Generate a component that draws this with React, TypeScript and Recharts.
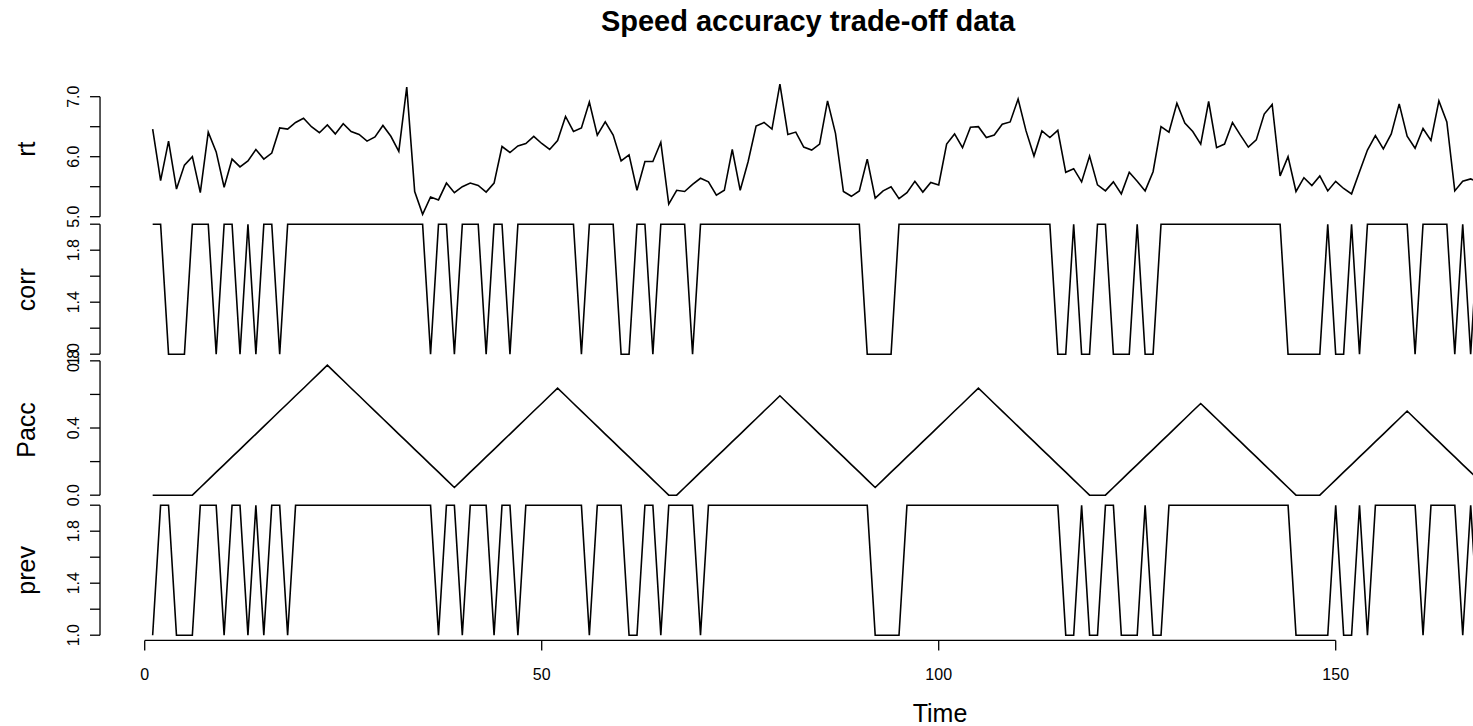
import React from "react";
import { LineChart, Line, XAxis, YAxis, ReferenceLine } from "recharts";

// time index of the series
const time = Array.from({ length: 168 }, (_, i) => i + 1);

const rt = [
  6.46, 5.6, 6.26, 5.46, 5.86, 6.0, 5.4, 6.41, 6.08, 5.49,
  5.96, 5.83, 5.93, 6.12, 5.96, 6.06, 6.48, 6.46, 6.57, 6.64,
  6.5, 6.4, 6.53, 6.38, 6.55, 6.42, 6.37, 6.26, 6.33, 6.52,
  6.34, 6.09, 7.16, 5.42, 5.04, 5.33, 5.28, 5.56, 5.4, 5.5,
  5.56, 5.52, 5.41, 5.56, 6.17, 6.07, 6.18, 6.22, 6.34, 6.22,
  6.12, 6.27, 6.67, 6.42, 6.48, 6.91, 6.36, 6.58, 6.36, 5.93,
  6.03, 5.44, 5.92, 5.92, 6.24, 5.21, 5.44, 5.42, 5.54, 5.64,
  5.58, 5.36, 5.44, 6.12, 5.44, 5.92, 6.51, 6.57, 6.46, 7.21,
  6.37, 6.41, 6.16, 6.11, 6.21, 6.93, 6.39, 5.42, 5.34, 5.43,
  5.96, 5.31, 5.43, 5.5, 5.3, 5.4, 5.59, 5.41, 5.57, 5.53,
  6.21, 6.38, 6.15, 6.49, 6.5, 6.32, 6.36, 6.54, 6.58, 6.96,
  6.43, 6.01, 6.43, 6.32, 6.44, 5.74, 5.8, 5.58, 6.01, 5.53,
  5.43, 5.58, 5.38, 5.74, 5.59, 5.43, 5.75, 6.5, 6.41, 6.89,
  6.56, 6.42, 6.21, 6.92, 6.15, 6.21, 6.57, 6.36, 6.16, 6.28,
  6.71, 6.87, 5.68, 6.0, 5.42, 5.65, 5.52, 5.68, 5.43, 5.59,
  5.47, 5.38, 5.75, 6.11, 6.35, 6.13, 6.38, 6.88, 6.34, 6.14,
  6.47, 6.27, 6.93, 6.58, 5.43, 5.59, 5.63, 5.58,
];

const corr = [
  2, 2, 1, 1, 1, 2, 2, 2, 1, 2,
  2, 1, 2, 1, 2, 2, 1, 2, 2, 2,
  2, 2, 2, 2, 2, 2, 2, 2, 2, 2,
  2, 2, 2, 2, 2, 1, 2, 2, 1, 2,
  2, 2, 1, 2, 2, 1, 2, 2, 2, 2,
  2, 2, 2, 2, 1, 2, 2, 2, 2, 1,
  1, 2, 2, 1, 2, 2, 2, 2, 1, 2,
  2, 2, 2, 2, 2, 2, 2, 2, 2, 2,
  2, 2, 2, 2, 2, 2, 2, 2, 2, 2,
  1, 1, 1, 1, 2, 2, 2, 2, 2, 2,
  2, 2, 2, 2, 2, 2, 2, 2, 2, 2,
  2, 2, 2, 2, 1, 1, 2, 1, 1, 2,
  2, 1, 1, 1, 2, 1, 1, 2, 2, 2,
  2, 2, 2, 2, 2, 2, 2, 2, 2, 2,
  2, 2, 2, 1, 1, 1, 1, 1, 2, 1,
  1, 2, 1, 2, 2, 2, 2, 2, 2, 1,
  2, 2, 2, 2, 1, 2, 1, 2,
];

const pacc = [
  0, 0, 0, 0, 0, 0, 0.046, 0.091, 0.137, 0.182,
  0.228, 0.273, 0.319, 0.364, 0.41, 0.455, 0.501, 0.546, 0.592, 0.637,
  0.683, 0.728, 0.774, 0.728, 0.683, 0.637, 0.592, 0.546, 0.501, 0.455,
  0.41, 0.364, 0.319, 0.273, 0.228, 0.182, 0.137, 0.091, 0.046, 0.091,
  0.137, 0.182, 0.228, 0.273, 0.319, 0.364, 0.41, 0.455, 0.501, 0.546,
  0.592, 0.637, 0.592, 0.546, 0.501, 0.455, 0.41, 0.364, 0.319, 0.273,
  0.228, 0.182, 0.137, 0.091, 0.046, 0, 0, 0.046, 0.091, 0.137,
  0.182, 0.228, 0.273, 0.319, 0.364, 0.41, 0.455, 0.501, 0.546, 0.592,
  0.546, 0.501, 0.455, 0.41, 0.364, 0.319, 0.273, 0.228, 0.182, 0.137,
  0.091, 0.046, 0.091, 0.137, 0.182, 0.228, 0.273, 0.319, 0.364, 0.41,
  0.455, 0.501, 0.546, 0.592, 0.637, 0.592, 0.546, 0.501, 0.455, 0.41,
  0.364, 0.319, 0.273, 0.228, 0.182, 0.137, 0.091, 0.046, 0, 0,
  0, 0.046, 0.091, 0.137, 0.182, 0.228, 0.273, 0.319, 0.364, 0.41,
  0.455, 0.501, 0.546, 0.501, 0.455, 0.41, 0.364, 0.319, 0.273, 0.228,
  0.182, 0.137, 0.091, 0.046, 0, 0, 0, 0, 0.046, 0.091,
  0.137, 0.182, 0.228, 0.273, 0.319, 0.364, 0.41, 0.455, 0.501, 0.455,
  0.41, 0.364, 0.319, 0.273, 0.228, 0.182, 0.137, 0.091,
];

const prev = [
  1, 2, 2, 1, 1, 1, 2, 2, 2, 1,
  2, 2, 1, 2, 1, 2, 2, 1, 2, 2,
  2, 2, 2, 2, 2, 2, 2, 2, 2, 2,
  2, 2, 2, 2, 2, 2, 1, 2, 2, 1,
  2, 2, 2, 1, 2, 2, 1, 2, 2, 2,
  2, 2, 2, 2, 2, 1, 2, 2, 2, 2,
  1, 1, 2, 2, 1, 2, 2, 2, 2, 1,
  2, 2, 2, 2, 2, 2, 2, 2, 2, 2,
  2, 2, 2, 2, 2, 2, 2, 2, 2, 2,
  2, 1, 1, 1, 1, 2, 2, 2, 2, 2,
  2, 2, 2, 2, 2, 2, 2, 2, 2, 2,
  2, 2, 2, 2, 2, 1, 1, 2, 1, 1,
  2, 2, 1, 1, 1, 2, 1, 1, 2, 2,
  2, 2, 2, 2, 2, 2, 2, 2, 2, 2,
  2, 2, 2, 2, 1, 1, 1, 1, 1, 2,
  1, 1, 2, 1, 2, 2, 2, 2, 2, 2,
  1, 2, 2, 2, 2, 1, 2, 1,
];

const xTicks = [0, 50, 100, 150];
const rtTicks = [5, 5.5, 6, 6.5, 7];
const rtLabels = [5, 6, 7];
const binTicks = [1, 1.2, 1.4, 1.6, 1.8, 2];
const binLabels = [1, 1.4, 1.8];
const paccTicks = [0, 0.2, 0.4, 0.6, 0.8];
const paccLabels = [0, 0.4, 0.8];

const rows = time.map((t, i) => ({ t, rt: rt[i], corr: corr[i], Pacc: pacc[i], prev: prev[i] }));

const W = 1473;
const LEFT = 100;
const PANEL_H = 140.4;
const XAXIS_H = 85.4;
const PAD = 20; // room above/below each panel so the tick labels are not cut
const X_DOMAIN: [number, number] = [-5.63, 167.29];
const FONT = '"Liberation Sans", Arial, Helvetica, sans-serif';

const panels = [
  { key: "rt", top: 79, domain: [4.955, 7.295], ticks: rtTicks, labels: rtLabels, axis: [5, 7] },
  { key: "corr", top: 219.4, domain: [0.96, 2.04], ticks: binTicks, labels: binLabels, axis: [1, 2] },
  { key: "Pacc", top: 359.8, domain: [-0.031, 0.805], ticks: paccTicks, labels: paccLabels, axis: [0, 0.8] },
  { key: "prev", top: 500.2, domain: [0.96, 2.04], ticks: binTicks, labels: binLabels, axis: [1, 2], showX: true },
];

// R only prints some of the tick labels, turned to read upwards
const makeTick = (labels: number[]) => (props: any) => {
  const { y, payload } = props;
  const v = payload.value;
  if (!labels.some((l) => Math.abs(l - v) < 1e-9)) return <g />;
  return (
    <text x={79} y={y} transform={`rotate(-90 79 ${y})`} textAnchor="middle" fontSize={16} fill="#000" fontFamily={FONT}>
      {v.toFixed(1)}
    </text>
  );
};

function Panel({ p }: { p: any }) {
  const h = p.showX ? PAD + PANEL_H + XAXIS_H : PAD + PANEL_H + PAD;
  return (
    <div style={{ position: "absolute", left: 0, top: p.top - PAD }}>
      <LineChart width={W} height={h} data={rows} margin={{ top: PAD, right: 0, bottom: p.showX ? 0 : PAD, left: 0 }}>
        <XAxis
          dataKey="t"
          type="number"
          domain={X_DOMAIN}
          allowDataOverflow
          hide={!p.showX}
          ticks={xTicks}
          interval={0}
          height={XAXIS_H}
          tickSize={10}
          tickMargin={18}
          axisLine={false}
          tickLine={{ stroke: "#000", strokeWidth: 1.3 }}
          tick={{ fontSize: 16, fill: "#000", fontFamily: FONT }}
        />
        <YAxis
          type="number"
          domain={p.domain}
          allowDataOverflow
          ticks={p.ticks}
          interval={0}
          width={LEFT}
          tickSize={10}
          axisLine={false}
          tickLine={{ stroke: "#000", strokeWidth: 1.3 }}
          tick={makeTick(p.labels)}
        />
        <ReferenceLine
          segment={[{ x: X_DOMAIN[0], y: p.axis[0] }, { x: X_DOMAIN[0], y: p.axis[1] }]}
          stroke="#000"
          strokeWidth={1.3}
          ifOverflow="visible"
        />
        {p.showX && (
          <ReferenceLine
            segment={[{ x: 0, y: p.domain[0] }, { x: 150, y: p.domain[0] }]}
            stroke="#000"
            strokeWidth={1.3}
            ifOverflow="visible"
          />
        )}
        <Line type="linear" dataKey={p.key} stroke="#000" strokeWidth={1.6} dot={false} isAnimationActive={false} />
      </LineChart>
    </div>
  );
}

export default function App() {
  return (
    <div style={{ position: "absolute", left: 0, top: 0, width: W, height: 726, overflow: "hidden", background: "#fff", fontFamily: FONT }}>
      {panels.map((p) => (
        <Panel key={p.key} p={p} />
      ))}
      <svg width={W} height={726} style={{ position: "absolute", left: 0, top: 0, pointerEvents: "none" }} fontFamily={FONT}>
        <text x={808} y={31} textAnchor="middle" fontWeight="bold" fontSize={29} fill="#000">
          Speed accuracy trade-off data
        </text>
        {panels.map((p) => {
          const cy = p.top + PANEL_H / 2;
          return (
            <text key={p.key} x={35} y={cy} transform={`rotate(-90 35 ${cy})`} textAnchor="middle" fontSize={25} fill="#000">
              {p.key}
            </text>
          );
        })}
        <text x={940} y={722} textAnchor="middle" fontSize={25} fill="#000">
          Time
        </text>
      </svg>
    </div>
  );
}
